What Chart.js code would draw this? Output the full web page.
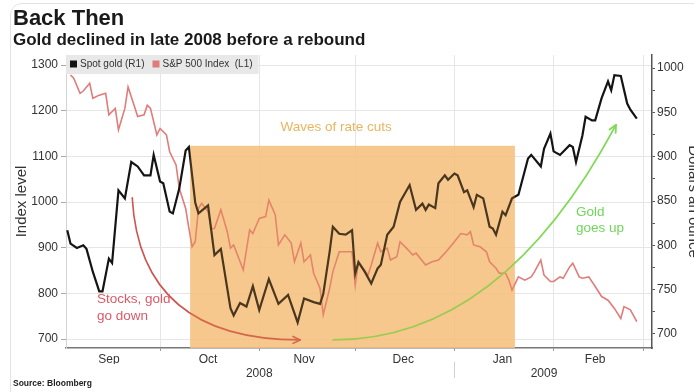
<!DOCTYPE html>
<html>
<head>
<meta charset="utf-8">
<script src="https://cdn.jsdelivr.net/npm/chart.js@4.4.1/dist/chart.umd.min.js"></script>
<style>
  html, body { margin: 0; padding: 0; background: #fff; overflow: hidden; width: 694px; height: 392px; }
  #wrap { position: relative; width: 704px; height: 392px; }
  #wrap canvas { position: absolute; left: 0; top: 0; }
  #frame { position: absolute; left: 10px; top: 3px; width: 720px; height: 430px; border: 1px solid #e2e2e2; border-radius: 12px; box-sizing: border-box; pointer-events: none; }
  #src { position: absolute; left: 13px; top: 378px; font: bold 8.5px "Liberation Sans", Arial, sans-serif; color: #222; }
</style>
</head>
<body>
<div id="wrap">
  <canvas id="chart" width="704" height="392"></canvas>
  <div id="frame"></div>
  <div id="src">Source: Bloomberg</div>
</div>
<script>
// x values are days counted from 1 Sep 2008
const GOLD_DAYS = [
  1, 2, 4, 6, 7, 9, 11, 12, 14, 15, 17, 19, 21, 23, 25, 27, 28,            // Sep
  30, 31, 33, 34, 36, 38, 39, 41, 42, 45, 47, 49, 52, 53, 55, 57, 59,      // Oct
  61, 64, 67, 70, 73, 75, 78, 80, 81, 83, 84, 86, 88, 90,                  // Nov
  91, 92, 94, 96, 98, 99, 101, 103, 105, 108, 110, 112, 113, 114, 116, 117, 119, 120, // Dec
  122, 123, 125, 126, 128, 129, 131, 133, 134, 135, 137, 138, 140, 141, 142, 145, 146, 149, 150, 152, // Jan
  153, 155, 158, 159, 160, 162, 163, 165, 166, 168, 170, 171, 172, 174, 176, 177, 179  // Feb
];
const GOLD_PRICE = [
  817, 802, 797, 800, 796, 770, 748, 748, 785, 780, 862, 853, 894, 889, 879, 879, 902,
  872, 870, 838, 836, 864, 907, 911, 848, 836, 845, 789, 796, 729, 721, 735, 731, 754,
  727, 762, 734, 744, 713, 740, 736, 734, 745, 793, 821, 813, 812, 817,
  768, 781, 770, 757, 774, 778, 812, 821, 849, 868, 840, 847, 840, 846, 842, 870, 879, 874,
  881, 879, 860, 862, 843, 857, 853, 821, 819, 812, 838, 834, 853, 855, 857, 898, 902, 889, 909, 926,
  906, 902, 913, 911, 894, 924, 945, 941, 941, 966, 985, 975, 992, 991, 960, 953, 943
];
const SPX_DAYS = [
  2, 3, 5, 6, 8, 9, 11, 13, 14, 16, 17, 19, 20, 22, 23, 25, 26, 27, 29,
  30, 32, 33, 35, 36, 38, 39, 40, 41, 42, 43, 45, 46, 47, 49, 51, 52, 53, 56, 58, 59,
  61, 63, 64, 66, 67, 69, 71, 72, 74, 75, 77, 78, 80, 81, 83, 84, 86, 88, 90,
  91, 92, 95, 96, 98, 99, 101, 102, 104, 105, 107, 109, 110, 113, 115, 117, 119,
  122, 124, 126, 127, 128, 130, 132, 133, 135, 136, 138, 139, 140, 142, 144, 146, 147, 149, 150, 152,
  153, 155, 156, 158, 159, 161, 162, 164, 166, 168, 170, 172, 174, 175, 177, 179
];
const SPX_LEVEL = [
  1278, 1271, 1238, 1243, 1260, 1227, 1234, 1238, 1191, 1205, 1158, 1205, 1252, 1209, 1187, 1191, 1212, 1205, 1147,
  1161, 1147, 1110, 1081, 1030, 986, 943, 902, 913, 986, 997, 979, 942, 942, 983, 935, 899, 906, 851, 939, 931,
  964, 968, 1004, 972, 906, 928, 910, 869, 910, 869, 884, 844, 811, 753, 811, 847, 891, 891, 891,
  818, 869, 840, 862, 910, 891, 899, 873, 880, 913, 899, 884, 888, 862, 869, 873, 888,
  913, 931, 928, 935, 906, 902, 891, 869, 855, 844, 844, 829, 807, 836, 829, 836, 847, 873, 840, 826,
  826, 836, 833, 858, 866, 836, 833, 836, 815, 793, 785, 767, 745, 771, 764, 738
];

const MONTH_NAMES = ['Sep', 'Oct', 'Nov', 'Dec', 'Jan', 'Feb'];
const MONTH_MIDS = [14, 45, 75, 106, 137, 166];
const MONTH_STARTS = [30, 61, 91, 122, 153, 181];
const YEAR_NAMES = ['2008', '2009'];
const YEAR_MIDS = [61, 150];
const LEFT_TICKS = [700, 800, 900, 1000, 1100, 1200, 1300];
const RIGHT_TICKS = [700, 725, 750, 775, 800, 825, 850, 875, 900, 925, 950, 975, 1000];

// shaded period and notes, in (day, index level) terms
const RATE_CUT_SPAN = [39.4, 140.9];
const RATE_CUT_TOP = 1123;
const RED_ARROW = [[21.3, 1009], [23.8, 698], [73.8, 698]];
const GREEN_ARROW = [[84.1, 698], [136.6, 698], [172.5, 1169]];

const FONT = '"Liberation Sans", Arial, sans-serif';
Chart.defaults.font.family = FONT;

function pts(days, vals) {
  return days.map((d, i) => ({ x: d, y: vals[i] }));
}

function toPx(chart, p) {
  return [chart.scales.x.getPixelForValue(p[0]), chart.scales.y.getPixelForValue(p[1])];
}

function arrow(ctx, chart, def, color, width) {
  const [a, b, c] = def.map(p => toPx(chart, p));
  ctx.save();
  ctx.strokeStyle = color;
  ctx.lineWidth = width;
  ctx.lineCap = 'round';
  ctx.lineJoin = 'round';
  ctx.beginPath();
  ctx.moveTo(a[0], a[1]);
  ctx.quadraticCurveTo(b[0], b[1], c[0], c[1]);
  ctx.stroke();
  const ang = Math.atan2(c[1] - b[1], c[0] - b[0]);
  const L = 8, s = 0.45;
  ctx.beginPath();
  ctx.moveTo(c[0] - L * Math.cos(ang - s), c[1] - L * Math.sin(ang - s));
  ctx.lineTo(c[0], c[1]);
  ctx.lineTo(c[0] - L * Math.cos(ang + s), c[1] - L * Math.sin(ang + s));
  ctx.stroke();
  ctx.restore();
}

function note(ctx, chart, lines, day, level, color, align, gap) {
  const x = chart.scales.x.getPixelForValue(day);
  const y = chart.scales.y.getPixelForValue(level);
  ctx.save();
  ctx.fillStyle = color;
  ctx.font = '13.5px ' + FONT;
  ctx.textAlign = align;
  ctx.textBaseline = 'middle';
  lines.forEach((t, i) => ctx.fillText(t, x, y + i * gap));
  ctx.restore();
}

function rateBox(chart) {
  const x0 = chart.scales.x.getPixelForValue(RATE_CUT_SPAN[0]);
  const x1 = chart.scales.x.getPixelForValue(RATE_CUT_SPAN[1]);
  const y0 = chart.scales.y.getPixelForValue(RATE_CUT_TOP);
  const y1 = chart.chartArea.bottom;
  return [x0, y0, x1 - x0, y1 - y0];
}

const overlays = {
  id: 'overlays',
  beforeDatasetsDraw(chart) {
    const ctx = chart.ctx;
    ctx.save();
    ctx.fillStyle = 'rgba(247,206,152,0.84)';
    ctx.fillRect(...rateBox(chart));
    ctx.restore();
  },
  afterDatasetsDraw(chart) {
    const ctx = chart.ctx;
    arrow(ctx, chart, RED_ARROW, '#cc5650', 1.6);
    arrow(ctx, chart, GREEN_ARROW, '#80da58', 1.8);

    ctx.save();
    ctx.fillStyle = 'rgba(238,160,60,0.25)';
    ctx.fillRect(...rateBox(chart));
    ctx.restore();

    note(ctx, chart, ['Waves of rate cuts'], 85, 1164, '#e8b55e', 'center', 0);
    note(ctx, chart, ['Stocks, gold', 'go down'], 10.3, 788, '#db5a66', 'left', 17);
    note(ctx, chart, ['Gold', 'goes up'], 160, 978, '#6fd65a', 'left', 16);

    // legend in the top-left corner of the plot
    const area = chart.chartArea;
    ctx.save();
    ctx.font = '10px ' + FONT;
    let x = area.left + 4;
    const cy = area.top + 9;
    const items = chart.data.datasets.map(ds => ({ text: ds.label, color: ds.borderColor }));
    const total = items.reduce((w, it) => w + 10 + ctx.measureText(it.text).width + 8, 0);
    ctx.fillStyle = 'rgba(230,230,230,0.92)';
    ctx.fillRect(area.left, area.top, total + 2, 19);
    ctx.textBaseline = 'middle';
    items.forEach(it => {
      ctx.fillStyle = it.color;
      ctx.fillRect(x, cy - 3.5, 7, 7);
      ctx.fillStyle = '#333';
      ctx.fillText(it.text, x + 10, cy);
      x += 10 + ctx.measureText(it.text).width + 8;
    });
    ctx.restore();
  },
  afterDraw(chart) {
    const ctx = chart.ctx;
    const xs = chart.scales.x;
    const yr = chart.scales.x2;
    const x = Math.round(xs.getPixelForValue(MONTH_STARTS[3])) + 0.5;
    ctx.save();
    ctx.strokeStyle = '#cfcfcf';
    ctx.lineWidth = 1;
    ctx.beginPath();
    ctx.moveTo(x, yr.top - 2);
    ctx.lineTo(x, yr.bottom);
    ctx.stroke();
    ctx.restore();
  }
};

const isStart = v => MONTH_STARTS.includes(v);

new Chart(document.getElementById('chart'), {
  type: 'line',
  data: {
    datasets: [
      {
        label: 'Spot gold (R1)',
        data: pts(GOLD_DAYS, GOLD_PRICE),
        yAxisID: 'y1',
        borderColor: '#141414',
        borderWidth: 2.2,
        pointRadius: 0,
        tension: 0
      },
      {
        label: 'S&P 500 Index  (L1)',
        data: pts(SPX_DAYS, SPX_LEVEL),
        yAxisID: 'y',
        borderColor: '#e07c7a',
        borderWidth: 1.6,
        pointRadius: 0,
        tension: 0
      }
    ]
  },
  options: {
    responsive: false,
    animation: false,
    devicePixelRatio: 1,
    layout: { padding: { left: 13, right: 0, top: 0, bottom: 14 } },
    plugins: {
      legend: { display: false },
      tooltip: { enabled: false },
      title: {
        display: true, text: 'Back Then', align: 'start', color: '#1a1a1a',
        font: { family: FONT, size: 22, weight: 'bold', lineHeight: 1.0 },
        padding: { top: 8.4, bottom: 0 }
      },
      subtitle: {
        display: true, text: 'Gold declined in late 2008 before a rebound', align: 'start', color: '#1a1a1a',
        font: { family: FONT, size: 17, weight: 'bold', lineHeight: 1.0 },
        padding: { top: 1.5, bottom: 6.1 }
      }
    },
    scales: {
      x: {
        type: 'linear', position: 'bottom', weight: 0,
        min: 0.6, max: 183.75,
        afterBuildTicks: s => { s.ticks = MONTH_STARTS.concat(MONTH_MIDS).sort((a, b) => a - b).map(v => ({ value: v })); },
        afterFit: s => { s.height = 16; },
        grid: {
          color: c => (c.tick && isStart(c.tick.value)) ? '#e6e6e6' : 'rgba(0,0,0,0)',
          tickColor: c => (c.tick && isStart(c.tick.value)) ? '#999' : 'rgba(0,0,0,0)',
          tickLength: 3
        },
        border: { color: '#777', width: 1.5 },
        ticks: {
          autoSkip: false, maxRotation: 0, padding: 1, color: '#333',
          font: { size: 12 },
          callback: v => { const i = MONTH_MIDS.indexOf(v); return i >= 0 ? MONTH_NAMES[i] : ''; }
        }
      },
      x2: {
        type: 'linear', axis: 'x', position: 'bottom', weight: 1,
        min: 0.6, max: 183.75,
        afterBuildTicks: s => { s.ticks = YEAR_MIDS.map(v => ({ value: v })); },
        afterFit: s => { s.height = 14; },
        grid: { display: false, drawTicks: false },
        border: { display: false },
        ticks: {
          autoSkip: false, maxRotation: 0, padding: 2, color: '#333',
          font: { size: 12 },
          callback: v => { const i = YEAR_MIDS.indexOf(v); return i >= 0 ? YEAR_NAMES[i] : ''; }
        }
      },
      y: {
        type: 'linear', position: 'left',
        min: 680.3, max: 1321.9,
        afterBuildTicks: s => { s.ticks = LEFT_TICKS.map(v => ({ value: v })); },
        afterFit: s => { s.width = 53; },
        grid: { color: '#e6e6e6', tickColor: '#aaa', tickLength: 5 },
        border: { color: '#d4d4d4' },
        ticks: { padding: 3, color: '#333', font: { size: 12 }, callback: v => String(v) },
        title: { display: true, text: 'Index level', color: '#333', font: { size: 15 }, padding: { top: 0, bottom: 0 } }
      },
      y1: {
        type: 'linear', position: 'right',
        min: 684.2, max: 1014.7,
        afterBuildTicks: s => { s.ticks = RIGHT_TICKS.map(v => ({ value: v })); },
        afterFit: s => { s.width = 52; },
        grid: { drawOnChartArea: false, tickColor: '#555', tickLength: 3 },
        border: { color: '#555', width: 1.5 },
        ticks: { padding: 2, color: '#333', font: { size: 12 }, callback: v => (v % 50 === 0 ? String(v) : '') },
        title: { display: true, text: 'Dollars an ounce', color: '#333', font: { size: 15 }, padding: { top: 2, bottom: 0 } }
      }
    }
  },
  plugins: [overlays]
});
</script>
</body>
</html>
